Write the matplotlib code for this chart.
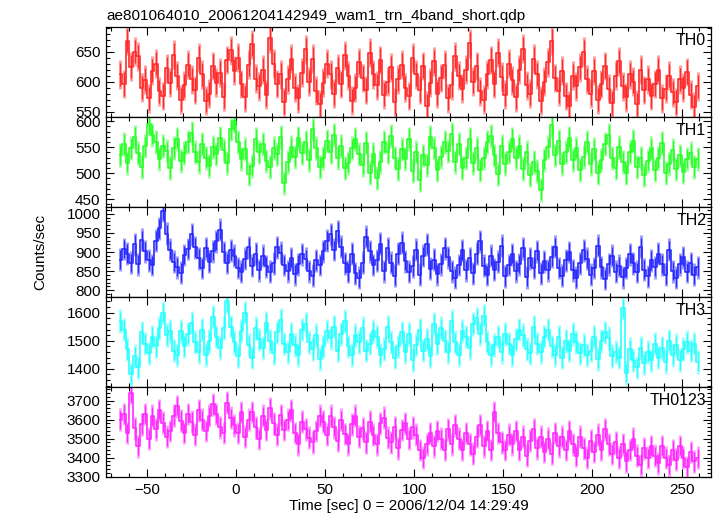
import numpy as np
import matplotlib
matplotlib.use("Agg")
import matplotlib.pyplot as plt
from matplotlib.ticker import MultipleLocator

plt.rcParams['font.family'] = ['Liberation Sans', 'DejaVu Sans']

# 2 s bins, -65 .. 259 s
t = np.arange(-65, 260, 2)

th0 = [612, 596, 668, 625, 650, 642, 590, 603, 572, 618,
       630, 584, 576, 622, 598, 645, 610, 570, 594, 628,
       604, 586, 640, 612, 568, 580, 626, 598, 615, 575,
       636, 652, 618, 640, 596, 574, 628, 662, 605, 592,
       620, 578, 672, 630, 596, 612, 566, 604, 638, 590,
       572, 615, 654, 600, 638, 585, 562, 598, 630, 612,
       580, 622, 596, 644, 610, 568, 590, 632, 606, 586,
       648, 612, 594, 636, 578, 600, 624, 566, 604, 628,
       590, 576, 640, 612, 586, 626, 560, 598, 634, 580,
       606, 628, 572, 594, 642, 610, 588, 620, 664, 600,
       626, 584, 570, 612, 636, 596, 648, 608, 578, 630,
       602, 574, 620, 655, 594, 580, 638, 612, 568, 600,
       632, 668, 606, 584, 618, 576, 560, 610, 592, 624,
       650, 604, 580, 618, 570, 596, 626, 588, 564, 610,
       634, 592, 574, 612, 600, 562, 620, 586, 604, 576,
       596, 620, 572, 588, 610, 582, 566, 604, 590, 616,
       578, 558, 592]

th1 = [535, 556, 520, 548, 570, 538, 512, 552, 594, 574,
       560, 528, 552, 542, 510, 548, 566, 524, 538, 560,
       578, 540, 522, 556, 530, 514, 550, 536, 568, 544,
       520, 584, 600, 560, 528, 546, 498, 514, 566, 540,
       556, 524, 512, 548, 536, 570, 482, 522, 550, 532,
       568, 538, 560, 526, 584, 548, 512, 530, 562, 540,
       574, 530, 552, 510, 520, 548, 566, 536, 516, 558,
       500, 536, 490, 522, 560, 540, 572, 530, 508, 546,
       528, 566, 504, 540, 486, 534, 516, 570, 548, 506,
       532, 560, 542, 576, 522, 556, 510, 530, 566, 520,
       548, 506, 530, 560, 572, 534, 498, 552, 518, 540,
       566, 530, 552, 508, 540, 496, 522, 504, 468, 526,
       550, 592, 534, 562, 518, 540, 568, 526, 548, 506,
       532, 560, 518, 546, 500, 526, 556, 574, 530, 510,
       550, 522, 500, 540, 562, 512, 530, 496, 524, 548,
       506, 530, 558, 500, 518, 544, 508, 534, 502, 528,
       538, 512, 528]

th2 = [880, 908, 896, 872, 920, 868, 932, 902, 878, 866,
       930, 962, 1008, 948, 906, 874, 860, 846, 892, 908,
       946, 912, 884, 858, 910, 874, 902, 928, 958, 900,
       872, 904, 890, 858, 848, 882, 912, 864, 896, 852,
       890, 862, 848, 870, 912, 898, 866, 850, 884, 842,
       868, 894, 882, 850, 838, 878, 866, 902, 930, 946,
       906, 954, 914, 870, 848, 896, 844, 832, 872, 940,
       902, 866, 878, 922, 850, 910, 872, 838, 896, 924,
       876, 848, 862, 906, 840, 890, 920, 856, 880, 842,
       868, 910, 886, 850, 832, 866, 904, 852, 884, 844,
       896, 928, 864, 840, 890, 854, 874, 916, 836, 866,
       894, 850, 868, 910, 834, 884, 858, 902, 844, 876,
       852, 888, 914, 858, 838, 878, 900, 852, 832, 870,
       904, 882, 840, 858, 916, 860, 830, 868, 890, 848,
       864, 834, 858, 894, 870, 848, 914, 854, 836, 878,
       860, 896, 868, 840, 906, 850, 832, 868, 886, 848,
       870, 840, 860]

th3 = [1570, 1540, 1470, 1380, 1445, 1405, 1530, 1490, 1455, 1515,
       1480, 1545, 1600, 1520, 1535, 1465, 1450, 1535, 1480, 1525,
       1565, 1495, 1460, 1540, 1450, 1500, 1585, 1515, 1475, 1545,
       1640, 1550, 1495, 1445, 1535, 1600, 1485, 1440, 1545, 1505,
       1475, 1565, 1500, 1455, 1530, 1575, 1490, 1460, 1525, 1485,
       1450, 1540, 1560, 1495, 1470, 1520, 1435, 1480, 1535, 1510,
       1550, 1465, 1525, 1570, 1480, 1450, 1520, 1495, 1545, 1465,
       1490, 1535, 1515, 1450, 1470, 1550, 1495, 1440, 1480, 1530,
       1460, 1525, 1430, 1485, 1540, 1465, 1505, 1445, 1560, 1490,
       1545, 1500, 1460, 1570, 1495, 1450, 1535, 1515, 1475, 1560,
       1580, 1525, 1590, 1495, 1450, 1485, 1515, 1460, 1525, 1490,
       1450, 1505, 1540, 1520, 1470, 1455, 1550, 1490, 1460, 1515,
       1540, 1480, 1450, 1515, 1440, 1500, 1465, 1525, 1495, 1455,
       1485, 1450, 1465, 1515, 1435, 1500, 1530, 1510, 1445, 1460,
       1440, 1615, 1385, 1470, 1430, 1405, 1475, 1420, 1460, 1430,
       1490, 1440, 1475, 1425, 1500, 1450, 1485, 1430, 1470, 1495,
       1465, 1490, 1425]

th0123 = [3600, 3630, 3530, 3740, 3555, 3460, 3575, 3630, 3500, 3620,
          3550, 3650, 3585, 3510, 3540, 3620, 3670, 3595, 3530, 3630,
          3590, 3520, 3650, 3600, 3540, 3620, 3680, 3630, 3560, 3530,
          3690, 3610, 3570, 3530, 3640, 3510, 3600, 3640, 3560, 3500,
          3620, 3545, 3660, 3580, 3520, 3625, 3545, 3600, 3650, 3530,
          3470, 3590, 3550, 3505, 3480, 3540, 3620, 3590, 3520, 3620,
          3560, 3490, 3600, 3525, 3470, 3575, 3620, 3510, 3555, 3480,
          3590, 3520, 3470, 3580, 3610, 3505, 3480, 3560, 3450, 3545,
          3580, 3500, 3560, 3520, 3440, 3400, 3470, 3530, 3460, 3540,
          3500, 3440, 3550, 3470, 3570, 3500, 3440, 3530, 3470, 3420,
          3510, 3570, 3460, 3540, 3440, 3640, 3530, 3480, 3440, 3520,
          3470, 3540, 3440, 3510, 3410, 3490, 3550, 3450, 3510, 3430,
          3500, 3420, 3530, 3460, 3510, 3440, 3540, 3470, 3410, 3510,
          3450, 3400, 3490, 3430, 3520, 3440, 3550, 3470, 3420, 3480,
          3400, 3470, 3380, 3440, 3500, 3410, 3360, 3450, 3400, 3460,
          3410, 3370, 3460, 3400, 3360, 3440, 3390, 3460, 3400, 3350,
          3430, 3380, 3400]

names = ['TH0', 'TH1', 'TH2', 'TH3', 'TH0123']
series = [th0, th1, th2, th3, th0123]
errs = [24, 23, 30, 42, 60]
colors = ['#ff2a2a', '#2aff2a', '#2a2aff', '#2affff', '#ff2aff']
ylims = [(541, 691), (435, 608), (782, 1018), (1335, 1656), (3298, 3772)]
majors = [50, 50, 50, 100, 100]
minors = [10, 10, 10, 20, 20]

fig = plt.figure(figsize=(7.17, 5.16), dpi=100)
left, width = 106 / 717, 605 / 717
ph = 90 / 516
bottom0 = 1 - 477 / 516

axes = []
for i in range(5):
    ax = fig.add_axes([left, bottom0 + (4 - i) * ph, width, ph])
    axes.append(ax)
    y = np.array(series[i])
    ax.errorbar(t, y, yerr=errs[i], fmt='none', ecolor=colors[i],
                alpha=0.45, elinewidth=2.2)
    ax.errorbar(t, y, yerr=np.array(errs[i]) * 0.8, fmt='none',
                ecolor=colors[i], elinewidth=0.9)
    ax.step(t, y, where='mid', color=colors[i], lw=1.2)
    ax.set_xlim(-73, 266.5)
    ax.set_ylim(*ylims[i])
    ax.xaxis.set_major_locator(MultipleLocator(50))
    ax.xaxis.set_minor_locator(MultipleLocator(10))
    ax.yaxis.set_major_locator(MultipleLocator(majors[i]))
    ax.yaxis.set_minor_locator(MultipleLocator(minors[i]))
    ax.tick_params(which='both', direction='in', top=True, right=True,
                   labelsize=11, width=0.8, pad=4)
    ax.tick_params(which='major', length=6)
    ax.tick_params(which='minor', length=3)
    for s in ax.spines.values():
        s.set_linewidth(0.9)
    if i < 4:
        ax.tick_params(labelbottom=False)
    ax.text(0.992, 0.93, names[i], transform=ax.transAxes, ha='right',
            va='top', fontsize=11.5)

axes[0].set_title('ae801064010_20061204142949_wam1_trn_4band_short.qdp',
                  loc='left', fontsize=11, pad=5)
axes[4].set_xlabel('Time [sec] 0 = 2006/12/04 14:29:49', fontsize=11, labelpad=2)
fig.text(40 / 717, 1 - 252 / 516, 'Counts/sec', rotation=90, ha='center',
         va='center', fontsize=11)

fig.savefig('out.png', dpi=100)
